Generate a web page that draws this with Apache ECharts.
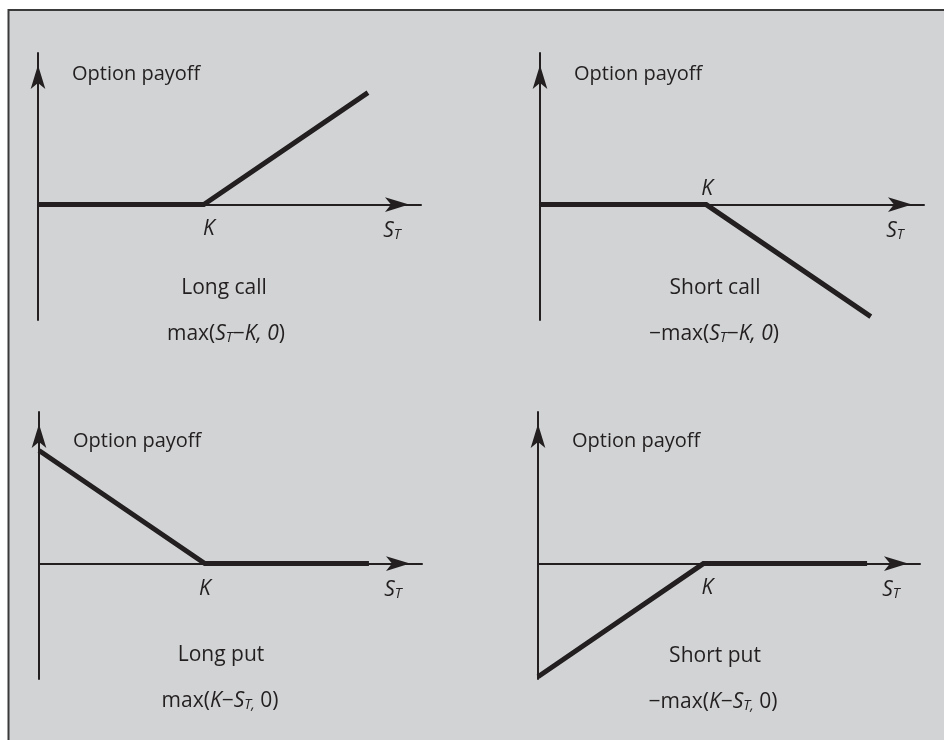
<!DOCTYPE html>
<html><head><meta charset="utf-8">
<script src="https://cdn.jsdelivr.net/npm/echarts@6/dist/echarts.min.js"></script>
<style>html,body{margin:0;padding:0;background:#fff;} #c{width:944px;height:740px;}</style>
</head><body><div id="c"></div>
<script>
// ---- data ----
const spotPrices = [0, 100, 199];
const strikePrice = 100;
const longCallPayoff = [0, 0, 99];
const shortCallPayoff = [0, 0, -99];
const longPutPayoff = [100, 0, 0];
const shortPutPayoff = [-100, 0, 0];
const panelPayoffs = [longCallPayoff, shortCallPayoff, longPutPayoff, shortPutPayoff];
const panelNames = ['Long call', 'Short call', 'Long put', 'Short put'];
const payoffFormulas = [
  '{n|max(}{i|S}{s|T}{n|\u2212}{i|K, 0}{n|)}',
  '{n|\u2212max(}{i|S}{s|T}{n|\u2212}{i|K, 0}{n|)}',
  '{n|max(}{i|K}{n|\u2212}{i|S}{s|T,}{n| 0)}',
  '{n|\u2212max(}{i|K}{n|\u2212}{i|S}{s|T,}{n| 0)}'
];
const yAxisTitle = 'Option payoff';
const strikeLabel = '{i|K}';
const spotLabel = '{i|S}{s|T}';
const xRange = [0, 231];
const yRange = [-102, 134];

// ---- layout / style ----
const INK = '#231f20';
const FONT = '"Open Sans", "Noto Sans", sans-serif';
const FS = 21;
const gridHeight = 267;
const layout = [
  {left: 38,  top: 53,  width: 383, kDx: 5, kDy: 24,  optY: 74,  titleX: 224, titleY: 288, formX: 226, formY: 334},
  {left: 540, top: 53,  width: 384, kDx: 1, kDy: -16, optY: 74,  titleX: 715, titleY: 288, formX: 714, formY: 334},
  {left: 39,  top: 412, width: 383, kDx: 0, kDy: 25,  optY: 441, titleX: 221, titleY: 655, formX: 220, formY: 701},
  {left: 538, top: 412, width: 382, kDx: 4, kDy: 24,  optY: 441, titleX: 715, titleY: 656, formX: 713, formY: 702}
];
const rich = {
  n: {fontFamily: FONT, fontSize: FS, fill: INK},
  t: {fontFamily: FONT, fontSize: 20, fill: INK},
  i: {fontFamily: FONT, fontSize: FS, fontStyle: 'italic', fill: INK},
  s: {fontFamily: FONT, fontSize: 14, fontStyle: 'italic', fill: INK, padding: [8, 0, 0, 0]}
};
function txt(x, y, text, align) {
  return {type: 'text', x: x, y: y, silent: true, z: 10,
    style: {text: text, fill: INK, font: FS + 'px ' + FONT, align: align || 'center', verticalAlign: 'middle', rich: rich}};
}
const arrowLine = {show: true, onZero: true, symbol: ['none', 'arrow'], symbolSize: [11, 24], symbolOffset: [0, -12],
  lineStyle: {color: INK, width: 2}};

const grids = [], xAxes = [], yAxes = [], series = [];
layout.forEach(function (L, i) {
  grids.push({left: L.left, top: L.top, width: L.width, height: gridHeight});
  xAxes.push({type: 'value', gridIndex: i, min: xRange[0], max: xRange[1], axisLine: arrowLine,
    axisTick: {show: false}, axisLabel: {show: false}, splitLine: {show: false}});
  yAxes.push({type: 'value', gridIndex: i, min: yRange[0], max: yRange[1], axisLine: arrowLine,
    axisTick: {show: false}, axisLabel: {show: false}, splitLine: {show: false}});
  series.push({type: 'line', xAxisIndex: i, yAxisIndex: i, clip: false, symbol: 'none', silent: true, z: 5,
    lineStyle: {color: INK, width: 5, join: 'miter', cap: 'butt'},
    data: spotPrices.map(function (s, k) { return [s, panelPayoffs[i][k]]; })});
});

const chart = echarts.init(document.getElementById('c'), null, {renderer: 'canvas'});
chart.setOption({
  animation: false,
  backgroundColor: '#ffffff',
  grid: grids, xAxis: xAxes, yAxis: yAxes, series: series
});

const elements = [{type: 'rect', z: -100, silent: true,
  shape: {x: 8.5, y: 10, width: 960, height: 760},
  style: {fill: '#d1d3d4', stroke: '#3a3a3a', lineWidth: 2}}];
layout.forEach(function (L, i) {
  const kPt = chart.convertToPixel({gridIndex: i}, [strikePrice, 0]);
  const endPt = chart.convertToPixel({gridIndex: i}, [xRange[1], 0]);
  elements.push(txt(L.left + 34, L.optY, '{t|' + yAxisTitle + '}', 'left'));
  elements.push(txt(kPt[0] + L.kDx, kPt[1] + L.kDy, strikeLabel));
  elements.push(txt(endPt[0] - 29, endPt[1] + 26, spotLabel));
  elements.push(txt(L.titleX, L.titleY, '{n|' + panelNames[i] + '}'));
  elements.push(txt(L.formX, L.formY, payoffFormulas[i]));
});
chart.setOption({graphic: {elements: elements}});
</script></body></html>
